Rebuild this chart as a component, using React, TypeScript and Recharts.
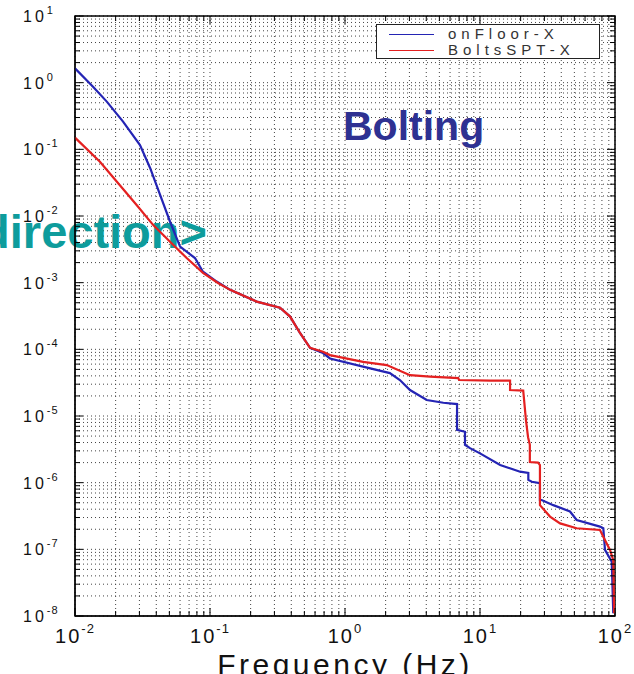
import React from "react";
import {
  LineChart,
  Line,
  XAxis,
  YAxis,
  CartesianGrid,
  Legend,
  ReferenceArea,
} from "recharts";

// onFloor-X (blue)
const onFloorFreq = [
  0.01, 0.0136, 0.0172, 0.0227, 0.0303, 0.036, 0.0427, 0.0506, 0.06, 0.0774,
  0.0887, 0.112, 0.141, 0.222, 0.33, 0.392, 0.464, 0.551, 0.687, 0.774,
  1.36, 2.15, 2.55, 3.03, 4.03, 5.35, 6.76, 6.76, 7.74, 7.74,
  8.43, 10, 14.1, 19.8, 22.8, 22.8, 24.2, 27.8, 27.8, 28.6,
  34.9, 46.4, 52, 77.4, 81.9, 84.3, 94.6, 97.1,
];
const onFloorAmp = [
  1.64, 0.87, 0.52, 0.26, 0.116, 0.0525, 0.0207, 0.0082, 0.00347, 0.00234,
  0.00146, 0.00104, 7.8e-4, 5.2e-4, 4.2e-4, 3.1e-4, 1.76e-4, 1.05e-4, 8.8e-5, 7.3e-5,
  5.5e-5, 4.4e-5, 3.47e-5, 2.45e-5, 1.74e-5, 1.58e-5, 1.51e-5, 6.2e-6, 5.8e-6, 3.7e-6,
  3.3e-6, 2.75e-6, 1.84e-6, 1.46e-6, 1.4e-6, 1.1e-6, 1.03e-6, 9.8e-7, 5.5e-7, 5.5e-7,
  4.6e-7, 3.7e-7, 2.75e-7, 2.19e-7, 2.07e-7, 9.8e-8, 6.5e-8, 1.1e-8,
];

// BoltsSPT-X (red)
const boltsFreq = [
  0.01, 0.0153, 0.0215, 0.0286, 0.038, 0.0506, 0.0672, 0.0887, 0.1146, 0.141,
  0.222, 0.33, 0.392, 0.464, 0.551, 0.687, 0.774, 1.36, 2.04, 3.03,
  4.26, 6.9, 7.0, 11.9, 16.7, 16.7, 20.9, 21.9, 22.7, 23.4,
  23.4, 26.9, 27.8, 27.8, 33.0, 39.2, 52.0, 77.4, 81.9, 91.8,
  97.1, 98.5,
];
const boltsAmp = [
  0.15, 0.065, 0.029, 0.0146, 0.0073, 0.0041, 0.00234, 0.0014, 9.9e-4, 7.8e-4,
  5.2e-4, 4.2e-4, 3.1e-4, 1.76e-4, 1.05e-4, 9.2e-5, 8.2e-5, 6.5e-5, 5.8e-5, 4.1e-5,
  3.9e-5, 3.7e-5, 3.47e-5, 3.4e-5, 3.4e-5, 2.45e-5, 2.4e-5, 8.7e-6, 4.8e-6, 3.7e-6,
  2.04e-6, 2.0e-6, 1.84e-6, 4.6e-7, 3.1e-7, 2.45e-7, 2.07e-7, 1.95e-7, 1.55e-7, 9.8e-8,
  6.9e-8, 1.1e-8,
];

const seriesNames = ["onFloor-X", "BoltsSPT-X"];
const seriesColors = ["#2424b4", "#e42020"];

const xDecades = [-2, -1, 0, 1];
const yDecades = [-8, -7, -6, -5, -4, -3, -2, -1, 0];
const minorSteps = [1, 2, 3, 4, 5, 6, 7, 8, 9];

const xTicks = [...xDecades.flatMap((d) => minorSteps.map((m) => m * 10 ** d)), 100];
const yTicks = [...yDecades.flatMap((d) => minorSteps.map((m) => m * 10 ** d)), 10];

const onFloorData = onFloorFreq.map((f, i) => ({ f, v: onFloorAmp[i] }));
const boltsData = boltsFreq.map((f, i) => ({ f, v: boltsAmp[i] }));

const W = 634;
const H = 674;
const M = { top: 16, right: 19, left: 0, bottom: 0 };
const Y_AXIS_W = 75;
const X_AXIS_H = 58;
const PLOT_W = W - M.left - M.right - Y_AXIS_W;
const PLOT_H = H - M.top - M.bottom - X_AXIS_H;

const font = "'Liberation Sans', Arial, sans-serif";

function decadeOf(v: number) {
  const lg = Math.log10(v);
  const e = Math.round(lg);
  return { e, major: Math.abs(lg - e) < 1e-6 };
}

function XTick(props: any) {
  const { x, y, payload } = props;
  const { e, major } = decadeOf(payload.value);
  const len = major ? 8 : 5;
  return (
    <g>
      <line x1={x} x2={x} y1={y} y2={y - len} stroke="#000" />
      <line x1={x} x2={x} y1={y - PLOT_H} y2={y - PLOT_H + len} stroke="#000" />
      {major && (
        <text x={x} y={y + 27} textAnchor="middle" fontSize={20} letterSpacing={2} fill="#111" fontFamily={font}>
          10
          <tspan dy={-10} fontSize={13} letterSpacing={1}>{e}</tspan>
        </text>
      )}
    </g>
  );
}

function YTick(props: any) {
  const { x, y, payload } = props;
  const { e, major } = decadeOf(payload.value);
  const len = major ? 8 : 5;
  return (
    <g>
      <line x1={x} x2={x + len} y1={y} y2={y} stroke="#000" />
      <line x1={x + PLOT_W} x2={x + PLOT_W - len} y1={y} y2={y} stroke="#000" />
      {major && (
        <text x={x - 52} y={y + 6} fontSize={16} letterSpacing={3} fill="#111" fontFamily={font}>
          10
          <tspan dy={-8} fontSize={11} letterSpacing={1}>{e}</tspan>
        </text>
      )}
    </g>
  );
}

function LegendBox(props: any) {
  const items = [...(props.payload || [])].sort(
    (a: any, b: any) => seriesNames.indexOf(a.value) - seriesNames.indexOf(b.value)
  );
  return (
    <div
      style={{
        width: 224,
        height: 35,
        boxSizing: "border-box",
        border: "1px solid #222",
        background: "#fff",
        paddingTop: 1,
      }}
    >
      {items.map((it: any) => (
        <div key={it.value} style={{ height: 16, display: "flex", alignItems: "center" }}>
          <span style={{ marginLeft: 12, width: 45, borderTop: `1.5px solid ${it.color}` }} />
          <span
            style={{
              marginLeft: 14,
              fontFamily: font,
              fontSize: 15,
              letterSpacing: 5,
              color: "#333",
              lineHeight: "16px",
            }}
          >
            {it.value}
          </span>
        </div>
      ))}
    </div>
  );
}

export default function App() {
  return (
    <div style={{ position: "absolute", left: 0, top: 0, width: W, height: H, background: "#fff" }}>
      <LineChart width={W} height={H} margin={M}>
        <CartesianGrid stroke="#444" strokeDasharray="1 3" />
        <XAxis
          dataKey="f"
          type="number"
          scale="log"
          domain={[0.01, 100]}
          ticks={xTicks}
          interval={0}
          height={X_AXIS_H}
          tickSize={0}
          tickMargin={0}
          tickLine={false}
          axisLine={{ stroke: "#000" }}
          tick={(p: any) => <XTick {...p} />}
          allowDataOverflow
        />
        <YAxis
          type="number"
          scale="log"
          domain={[1e-8, 10]}
          ticks={yTicks}
          interval={0}
          width={Y_AXIS_W}
          tickSize={0}
          tickMargin={0}
          tickLine={false}
          axisLine={{ stroke: "#000" }}
          tick={(p: any) => <YTick {...p} />}
          allowDataOverflow
        />
        <ReferenceArea x1={0.01} x2={100} y1={1e-8} y2={10} fill="none" stroke="#000" strokeWidth={1.5} />
        <Line
          data={onFloorData}
          dataKey="v"
          name={seriesNames[0]}
          type="linear"
          stroke={seriesColors[0]}
          strokeWidth={2.2}
          dot={false}
          isAnimationActive={false}
        />
        <Line
          data={boltsData}
          dataKey="v"
          name={seriesNames[1]}
          type="linear"
          stroke={seriesColors[1]}
          strokeWidth={2.2}
          dot={false}
          isAnimationActive={false}
        />
        <Legend
          layout="horizontal"
          verticalAlign="middle"
          align="center"
          content={(p: any) => <LegendBox {...p} />}
          wrapperStyle={{ position: "absolute", left: 376, top: 24, width: 224, height: 35 }}
        />
        <text x={343} y={140} fontSize={41} fontWeight="bold" fill="#2e3192" fontFamily={font}>
          Bolting
        </text>
        <text x={207} y={248} textAnchor="end" fontSize={47} fontWeight="bold" fill="#0e9c9c" fontFamily={font}>
          direction&gt;
        </text>
        <text x={345} y={675} textAnchor="middle" fontSize={30} letterSpacing={3.5} fill="#111" fontFamily={font}>
          Frequency (Hz)
        </text>
      </LineChart>
    </div>
  );
}
